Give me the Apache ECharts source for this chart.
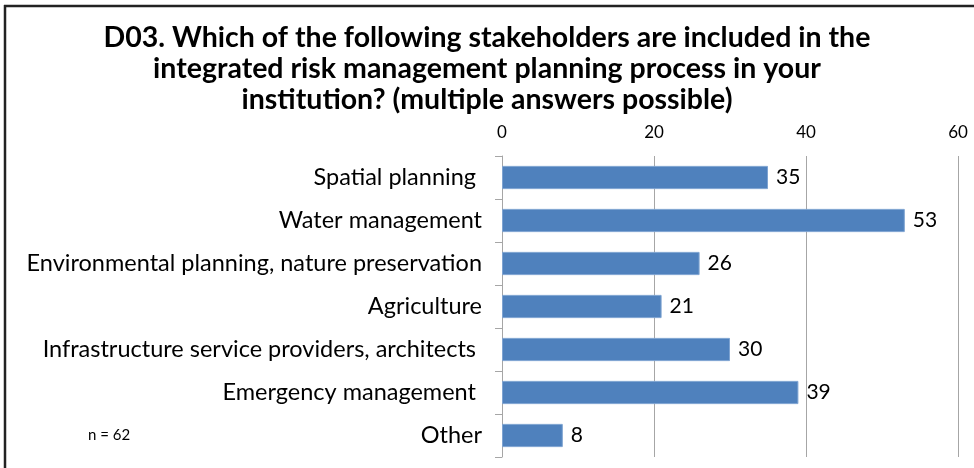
<!DOCTYPE html>
<html>
<head>
<meta charset="utf-8">
<script src="https://cdn.jsdelivr.net/npm/echarts@6/dist/echarts.min.js"></script>
<style>
  html, body { margin: 0; padding: 0; background: #fff; }
  #chart { width: 974px; height: 468px; }
</style>
</head>
<body>
<div id="chart"></div>
<script>
// Stakeholders included in integrated risk management planning (n = 62)
const categories = [
  'Spatial planning ',
  'Water management',
  'Environmental planning, nature preservation',
  'Agriculture',
  'Infrastructure service providers, architects ',
  'Emergency management ',
  'Other'
];
const counts = [35, 53, 26, 21, 30, 39, 8];
const axisTicks = [0, 20, 40, 60];

const FONT = 'Lato, "Open Sans", sans-serif';

const chart = echarts.init(document.getElementById('chart'), null, { renderer: 'canvas' });
chart.setOption({
  animation: false,
  backgroundColor: '#ffffff',
  title: {
    text: 'D03. Which of the following stakeholders are included in the\nintegrated risk management planning process in your\ninstitution? (multiple answers possible)',
    left: 'center',
    top: 17,
    textStyle: {
      fontFamily: FONT,
      fontWeight: 'bold',
      fontSize: 28.5,
      lineHeight: 31,
      color: '#000'
    }
  },
  grid: {
    left: 502,
    right: 16,
    top: 156,
    bottom: 11,
    containLabel: false
  },
  xAxis: {
    type: 'value',
    position: 'top',
    min: axisTicks[0],
    max: axisTicks[axisTicks.length - 1],
    interval: 20,
    axisLine: { show: false },
    axisTick: { show: false },
    axisLabel: {
      fontFamily: FONT,
      fontSize: 17,
      color: '#000',
      margin: 15
    },
    splitLine: { show: true, lineStyle: { color: '#a6a6a6', width: 1 } }
  },
  yAxis: {
    type: 'category',
    inverse: true,
    data: categories,
    axisLine: { show: true, lineStyle: { color: '#a6a6a6', width: 1 } },
    axisTick: { show: true, length: 7, lineStyle: { color: '#a6a6a6' } },
    axisLabel: {
      fontFamily: FONT,
      fontSize: 23.5,
      color: '#000',
      margin: 20
    }
  },
  series: [{
    type: 'bar',
    data: counts,
    barWidth: '54%',
    itemStyle: { color: '#4f81bd', borderColor: '#7ea3d1', borderWidth: 1 },
    label: {
      show: true,
      position: 'right',
      distance: 8,
      fontFamily: FONT,
      fontSize: 21,
      color: '#000'
    }
  }],
  graphic: [
    {
      type: 'text',
      left: 88,
      top: 428,
      style: { text: 'n = 62', font: '15px ' + FONT, fill: '#000' }
    },
    {
      type: 'line',
      shape: { x1: 4, y1: 6, x2: 974, y2: 6 },
      style: { stroke: '#222', lineWidth: 2.5 }
    },
    {
      type: 'line',
      shape: { x1: 5, y1: 5, x2: 5, y2: 468 },
      style: { stroke: '#222', lineWidth: 2.5 }
    }
  ]
});
</script>
</body>
</html>
